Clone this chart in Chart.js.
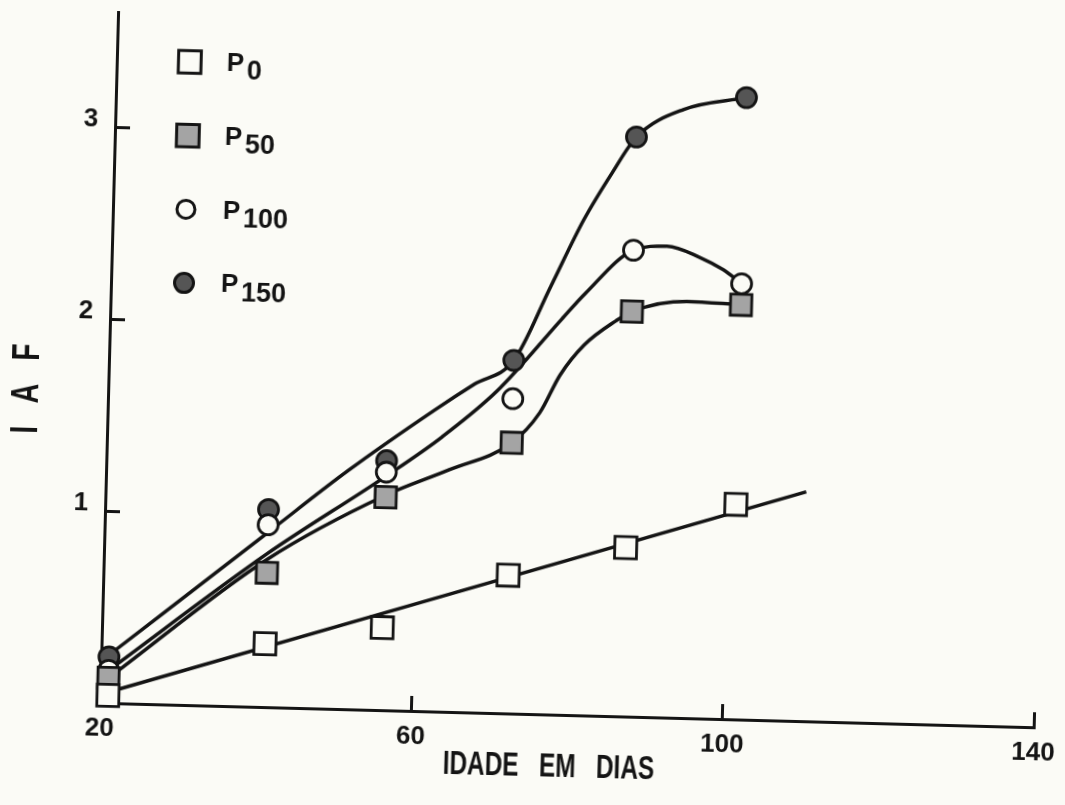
<!DOCTYPE html>
<html>
<head>
<meta charset="utf-8">
<title>IAF - Idade em dias</title>
<script src="https://cdn.jsdelivr.net/npm/chart.js@4.4.1/dist/chart.umd.min.js"></script>
<style>
  html, body { margin: 0; padding: 0; background: #fbfbf6; overflow: hidden; }
  /* the sheet sits slightly askew on the page */
  #sheet {
    position: absolute; left: 0; top: 0; width: 1065px; height: 805px;
    transform: rotate(1.5deg); transform-origin: 532.5px 402.5px;
  }
</style>
</head>
<body>
<div id="sheet"><canvas id="iaf" width="1065" height="805"></canvas></div>
<script>
// Sampling ages (days)
const days = [21, 41, 56, 72, 87, 101];

// Observed leaf area index per phosphorus level
const iafP0   = [0.04, 0.33, 0.43, 0.72, 0.88, 1.12];
const iafP50  = [0.13, 0.70, 1.11, 1.41, 2.11, 2.16];
const iafP100 = [0.17, 0.95, 1.24, 1.64, 2.43, 2.27];
const iafP150 = [0.24, 1.03, 1.30, 1.84, 3.02, 3.24];

// Hand-fitted curves: knot ages and IAF values
const fitP0Days   = [21, 110];
const fitP0       = [0.056, 1.195];
const fitP50Days  = [21, 41, 56, 64, 72, 75.5, 78, 81, 85, 87, 94, 101];
const fitP50      = [0.13, 0.77, 1.12, 1.26, 1.41, 1.57, 1.77, 1.93, 2.06, 2.11, 2.17, 2.16];
const fitP100Days = [21, 41, 56, 63, 70, 78, 81, 87, 91.3, 95.6, 98.6, 101];
const fitP100     = [0.17, 0.80, 1.22, 1.43, 1.68, 2.06, 2.20, 2.43, 2.455, 2.40, 2.34, 2.27];
const fitP150Days = [21, 41, 51, 62, 67, 72, 76.5, 80.5, 84, 87, 93, 101];
const fitP150     = [0.25, 0.91, 1.24, 1.57, 1.71, 1.84, 2.23, 2.58, 2.83, 3.02, 3.17, 3.24];

// Legend subscripts (P0, P50, ...), axis ticks and captions
const levels = ['0', '50', '100', '150'];
const xTicks = [20, 60, 100, 140];
const yTicks = [1, 2, 3];
const xCaption = 'IDADE   EM   DIAS';
const yCaption = 'I   A   F';

const INK = '#141414';
const PAPER = '#fbfbf6';
const SANS = "'Liberation Sans', Arial, sans-serif";

const toXY = (xs, ys) => xs.map((x, i) => ({ x, y: ys[i] }));

const markerStyles = [
  { pointStyle: 'rect',   radius: 15.5, fill: PAPER,     legendRadius: 16 },
  { pointStyle: 'rect',   radius: 15,   fill: '#a4a4a4', legendRadius: 16 },
  { pointStyle: 'circle', radius: 10,   fill: PAPER,     legendRadius: 9 },
  { pointStyle: 'circle', radius: 10,   fill: '#555555', legendRadius: 9.5 }
];

const observed = [iafP0, iafP50, iafP100, iafP150];
const fits = [
  [fitP0Days, fitP0], [fitP50Days, fitP50], [fitP100Days, fitP100], [fitP150Days, fitP150]
];

const curveSets = fits.map(([xs, ys], i) => ({
  label: 'ajuste P' + levels[i],
  data: toXY(xs, ys),
  showLine: true,
  borderColor: INK,
  borderWidth: 3.5,
  pointRadius: 0,
  cubicInterpolationMode: 'monotone',
  fill: false,
  clip: false,
  order: 2
}));

const pointSets = observed.map((ys, i) => ({
  label: 'P' + levels[i],
  data: toXY(days, ys),
  showLine: false,
  pointStyle: markerStyles[i].pointStyle,
  pointRadius: markerStyles[i].radius,
  pointBackgroundColor: markerStyles[i].fill,
  pointBorderColor: INK,
  pointBorderWidth: 2.8,
  clip: false,
  order: 1
}));

// Marker drawn in the legend with the dataset's own style
function drawMarker(ctx, style, cx, cy, r) {
  ctx.save();
  ctx.fillStyle = style.fill;
  ctx.strokeStyle = INK;
  ctx.lineWidth = 3;
  ctx.beginPath();
  if (style.pointStyle === 'rect') {
    const h = r * Math.SQRT1_2;
    ctx.rect(cx - h, cy - h, 2 * h, 2 * h);
  } else {
    ctx.arc(cx, cy, r, 0, Math.PI * 2);
  }
  ctx.fill();
  ctx.stroke();
  ctx.restore();
}

// Legend column in the upper-left of the plot: marker, "P" and a lowered subscript
const insetLegend = {
  id: 'insetLegend',
  afterDatasetsDraw(chart) {
    const { ctx, chartArea } = chart;
    ctx.save();
    ctx.fillStyle = INK;
    ctx.textBaseline = 'middle';
    ctx.textAlign = 'left';
    levels.forEach((lv, i) => {
      const cx = chartArea.left + 73;
      const cy = chartArea.top + 48 + i * 73.7;
      drawMarker(ctx, markerStyles[i], cx, cy, markerStyles[i].legendRadius);
      ctx.font = 'bold 26px ' + SANS;
      const px = cx + 37;
      ctx.fillText('P', px, cy + 1);
      const w = ctx.measureText('P').width;
      ctx.font = 'bold 27px ' + SANS;
      ctx.fillText(lv, px + w + 3, cy + 9);
    });
    ctx.restore();
  }
};

// Narrow hand-lettered axis captions
const axisCaptions = {
  id: 'axisCaptions',
  afterDraw(chart) {
    const { ctx, chartArea } = chart;
    ctx.save();
    ctx.fillStyle = INK;
    ctx.textAlign = 'center';
    ctx.textBaseline = 'middle';

    ctx.save();
    ctx.translate(chartArea.left + 450, chartArea.bottom + 53);
    ctx.scale(0.74, 1);
    ctx.font = 'bold 33px ' + SANS;
    ctx.fillText(xCaption, 0, 0);
    ctx.restore();

    ctx.save();
    ctx.translate(chartArea.left - 80, chartArea.top + 379);
    ctx.rotate(-Math.PI / 2);
    ctx.scale(0.72, 1);
    ctx.font = 'bold 38px ' + SANS;
    ctx.fillText(yCaption, 0, 0);
    ctx.restore();

    ctx.restore();
  }
};

const tickFont = { family: SANS, size: 26, weight: 'bold' };

new Chart(document.getElementById('iaf'), {
  type: 'scatter',
  data: { datasets: [...pointSets, ...curveSets] },
  plugins: [insetLegend, axisCaptions],
  options: {
    responsive: false,
    animation: false,
    devicePixelRatio: 1,
    layout: { padding: { left: 0, right: 23, top: 23, bottom: 0 } },
    plugins: {
      legend: { display: false },
      tooltip: { enabled: false }
    },
    scales: {
      x: {
        type: 'linear',
        min: 20,
        max: 140,
        afterBuildTicks: s => { s.ticks = xTicks.map(v => ({ value: v })); },
        afterFit: s => { s.height = 91; s.paddingLeft = 0; s.paddingRight = 0; },
        border: { display: true, color: INK, width: 3 },
        grid: { drawOnChartArea: false, drawTicks: true, tickLength: -15, color: INK, lineWidth: 3 },
        ticks: { color: INK, font: tickFont, padding: 25, maxRotation: 0 }
      },
      y: {
        type: 'linear',
        min: 0,
        max: 3.6,
        afterBuildTicks: s => { s.ticks = yTicks.map(v => ({ value: v })); },
        afterFit: s => { s.width = 108; s.paddingTop = 0; s.paddingBottom = 0; },
        border: { display: true, color: INK, width: 3 },
        grid: { drawOnChartArea: false, drawTicks: true, tickLength: -15, color: INK, lineWidth: 3 },
        ticks: { color: INK, font: tickFont, padding: 32, labelOffset: -7 }
      }
    }
  }
});
</script>
</body>
</html>
